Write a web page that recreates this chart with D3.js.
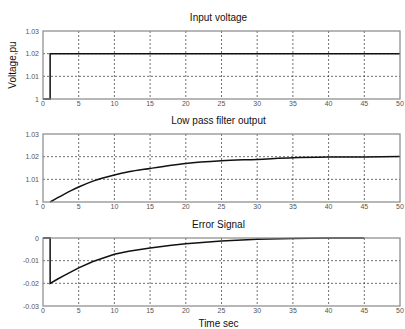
<!DOCTYPE html>
<html>
<head>
<meta charset="utf-8">
<script src="https://cdn.jsdelivr.net/npm/d3@7"></script>
<style>
  body { margin: 0; background: #fff; }
  text { font-family: "Liberation Sans", Arial, sans-serif; }
</style>
</head>
<body>
<div id="chart"></div>
<script>
// ---- data ----
var xTicks = [0, 5, 10, 15, 20, 25, 30, 35, 40, 45, 50];

var inputTime = [0, 1, 1, 50];
var inputVolt = [1, 1, 1.02, 1.02];

var lpfTime = [1, 2, 3, 4, 5, 7, 10, 12, 15, 18, 20, 25, 30, 35, 40, 45, 50];
var lpfVal  = [1, 1.0018, 1.0035, 1.0051, 1.0066, 1.0092, 1.0119, 1.0133, 1.0148, 1.0162, 1.017, 1.0182, 1.0188, 1.0195, 1.0198, 1.0199, 1.0201];

var errTime = [0, 1, 1, 2, 3, 5, 7, 10, 12, 15, 18, 20, 25, 30, 35, 40, 45];
var errVal  = [0, 0, -0.02, -0.0182, -0.0165, -0.0132, -0.0104, -0.0072, -0.0058, -0.0044, -0.0032, -0.0025, -0.0013, -0.0006, -0.0002, 0, 0];

var panels = [
  { title: "Input  voltage", top: 31, bottom: 99, ymin: 1, ymax: 1.03,
    yTicks: [1, 1.01, 1.02, 1.03], yLabels: ["1", "1.01", "1.02", "1.03"], t: inputTime, v: inputVolt, curve: d3.curveLinear },
  { title: "Low pass filter output", top: 134, bottom: 202, ymin: 1, ymax: 1.03,
    yTicks: [1, 1.01, 1.02, 1.03], yLabels: ["1", "1.01", "1.02", "1.03"], t: lpfTime, v: lpfVal, curve: d3.curveMonotoneX },
  { title: "Error Signal", top: 238, bottom: 306, ymin: -0.03, ymax: 0,
    yTicks: [-0.03, -0.02, -0.01, 0], yLabels: ["-0.03", "-0.02", "-0.01", "0"], t: errTime, v: errVal, curve: d3.curveLinear }
];

var W = 405, H = 329, left = 43, right = 400;

var svg = d3.select("#chart").append("svg")
  .attr("width", W).attr("height", H);

var x = d3.scaleLinear().domain([0, 50]).range([left, right]);

panels.forEach(function (p) {
  var y = d3.scaleLinear().domain([p.ymin, p.ymax]).range([p.bottom, p.top]);
  var g = svg.append("g");

  // grid
  g.selectAll(".vg").data(xTicks.slice(1, -1)).enter().append("line")
    .attr("x1", function (d) { return x(d); }).attr("x2", function (d) { return x(d); })
    .attr("y1", p.top).attr("y2", p.bottom)
    .attr("stroke", "#333").attr("stroke-width", 0.7).attr("stroke-dasharray", "2,2");
  g.selectAll(".hg").data(p.yTicks.slice(1, -1)).enter().append("line")
    .attr("x1", left).attr("x2", right)
    .attr("y1", function (d) { return y(d); }).attr("y2", function (d) { return y(d); })
    .attr("stroke", "#333").attr("stroke-width", 0.7).attr("stroke-dasharray", "2,2");

  // curve
  var line = d3.line()
    .x(function (d) { return x(d[0]); })
    .y(function (d) { return y(d[1]); })
    .curve(p.curve);
  g.append("path")
    .datum(d3.zip(p.t, p.v))
    .attr("d", line)
    .attr("fill", "none").attr("stroke", "#111").attr("stroke-width", 1.5);

  // box
  g.append("rect")
    .attr("x", left).attr("y", p.top)
    .attr("width", right - left).attr("height", p.bottom - p.top)
    .attr("fill", "none").attr("stroke", "#888").attr("stroke-width", 1.2);

  // x tick labels
  g.selectAll(".xl").data(xTicks).enter().append("text")
    .attr("x", function (d) { return x(d); })
    .attr("y", p.bottom + 7)
    .attr("text-anchor", "middle")
    .attr("font-size", 7).attr("fill", "#555")
    .text(function (d) { return d; });

  // y tick labels
  g.selectAll(".yl").data(p.yTicks).enter().append("text")
    .attr("x", left - 4)
    .attr("y", function (d) { return y(d) + 2.5; })
    .attr("text-anchor", "end")
    .attr("font-size", 7).attr("fill", "#555")
    .text(function (d, i) { return p.yLabels[i]; });

  // title
  g.append("text")
    .attr("x", (left + right) / 2 - 3)
    .attr("y", p.top - 10)
    .attr("text-anchor", "middle")
    .attr("font-size", 10).attr("fill", "#111")
    .text(p.title);
});

svg.append("text")
  .attr("transform", "translate(16,65) rotate(-90)")
  .attr("text-anchor", "middle")
  .attr("font-size", 10).attr("fill", "#111")
  .text("Voltage,pu");

svg.append("text")
  .attr("x", (left + right) / 2 - 3)
  .attr("y", 327)
  .attr("text-anchor", "middle")
  .attr("font-size", 10).attr("fill", "#111")
  .text("Time sec");
</script>
</body>
</html>
